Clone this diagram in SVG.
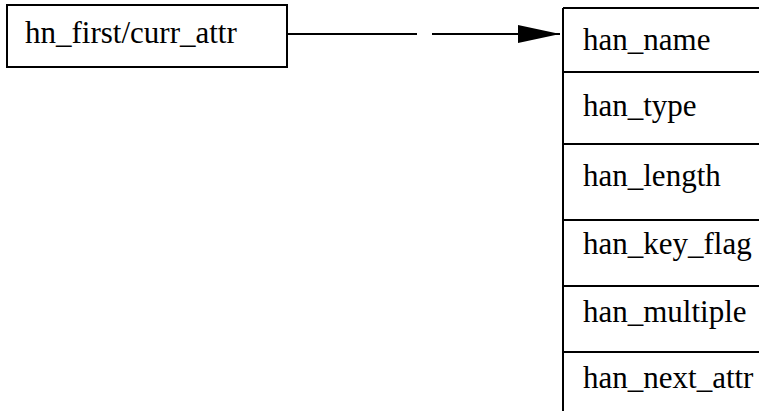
<svg xmlns="http://www.w3.org/2000/svg" width="759" height="411" viewBox="0 0 759 411">
<defs>
<style>
.box{fill:none;stroke:#000;stroke-width:2}
.t{font-family:"Liberation Serif","Times New Roman",serif;font-size:31px;fill:#000}
.ln{stroke:#000;stroke-width:2;fill:none}
</style>
<marker id="ah" markerUnits="userSpaceOnUse" markerWidth="44" markerHeight="22" refX="42" refY="10" orient="auto">
<path d="M0,1 L42,10 L0,19 Z" fill="#000"/>
</marker>
</defs>
<rect width="759" height="411" fill="#fff"/>
<g id="hn_first_curr_attr">
<rect class="box" x="7" y="5" width="280" height="62"/>
<text class="t" x="25" y="43">hn_first/curr_attr</text>
</g>
<g id="han_struct">
<path class="ln" d="M563,8 H760 M563,8 V411 M563,72 H760 M563,144 H760 M563,220 H760 M563,286 H760 M563,352 H760"/>
<text class="t" x="583" y="50">han_name</text>
<text class="t" x="583" y="116">han_type</text>
<text class="t" x="583" y="186">han_length</text>
<text class="t" x="583" y="254">han_key_flag</text>
<text class="t" x="583" y="322">han_multiple</text>
<text class="t" x="583" y="388">han_next_attr</text>
</g>
<g id="connectors">
<path class="ln" d="M287,34 H417"/>
<path class="ln" d="M432,34 H560" marker-end="url(#ah)"/>
</g>
</svg>
